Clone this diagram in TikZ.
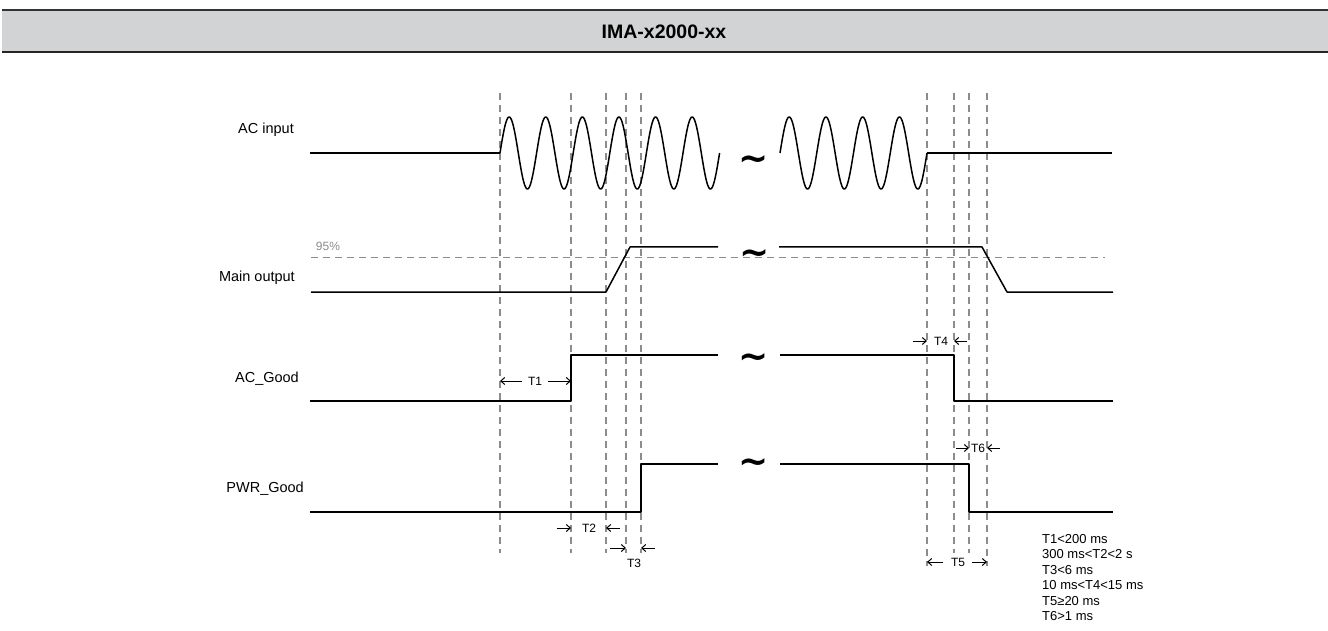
\documentclass[tikz,border=0pt]{standalone}
\usepackage{fontspec}
\setmainfont{Liberation Sans}
\newfontfamily\djv{DejaVu Sans}
\usetikzlibrary{arrows.meta}
\definecolor{hdrgray}{RGB}{210,211,213}
\definecolor{guidegray}{RGB}{140,140,140}
\begin{document}
\begin{tikzpicture}[x=1pt,y=-1pt,
  sig/.style={line width=1.5pt, black, line join=round},
  vguide/.style={guidegray, dash pattern=on 7pt off 5pt, line width=1.1pt},
  lbl/.style={anchor=east, inner sep=0pt, font=\fontsize{14.5}{16}\selectfont},
  tlbl/.style={inner sep=0pt, font=\fontsize{12}{14}\selectfont},
  tarr/.style={-{Straight Barb[length=4pt,width=7pt]}, line width=1pt},
  brk/.style={inner sep=0pt, font=\djv\bfseries\fontsize{36}{36}\selectfont}
]
\useasboundingbox (0,0) rectangle (1328,631);
% header
\fill[hdrgray] (2,10) rectangle (1328,52);
\draw[line width=1.2pt, black!80] (2,10) -- (1328,10);
\draw[line width=2pt, black!85] (2,52) -- (1328,52);
\node[inner sep=0pt, font=\fontsize{19.5}{21}\selectfont\bfseries] (title) at (664,32) {IMA-x2000-xx};

% vertical guides
\coordinate (va) at (500,93);  \coordinate (vaB) at (500,553);
\coordinate (vb) at (571,93);  \coordinate (vbB) at (571,553);
\coordinate (vc) at (606,93);  \coordinate (vcB) at (606,553);
\coordinate (vd) at (626,93);  \coordinate (vdB) at (626,553);
\coordinate (ve) at (641,93);  \coordinate (veB) at (641,553);
\coordinate (vf) at (927,93);  \coordinate (vfB) at (927,566);
\coordinate (vg) at (954,93);  \coordinate (vgB) at (954,553);
\coordinate (vh) at (969,93);  \coordinate (vhB) at (969,553);
\coordinate (vi) at (987,93);  \coordinate (viB) at (987,566);
\draw[vguide] (va) -- (vaB);
\draw[vguide] (vb) -- (vbB);
\draw[vguide] (vc) -- (vcB);
\draw[vguide] (vd) -- (vdB);
\draw[vguide] (ve) -- (veB);
\draw[vguide] (vf) -- (vfB);
\draw[vguide] (vg) -- (vgB);
\draw[vguide] (vh) -- (vhB);
\draw[vguide] (vi) -- (viB);
% 95% line
\coordinate (p95l) at (311,257);
\coordinate (p95r) at (1105,257);
\draw[vguide, line width=1pt] (p95l) -- (p95r);
\node[inner sep=0pt, text=guidegray, font=\fontsize{12}{14}\selectfont] (p95) at (328,246) {95\%};

% labels
\node[lbl] (lac) at (294,130) {AC input};
\node[lbl] (lmain) at (295,278) {Main output};
\node[lbl] (lacg) at (299,379) {AC\_Good};
\node[lbl] (lpwr) at (304,489) {PWR\_Good};

% AC input
\draw[sig] (310,153) -- (500,153);
\draw[sig, domain=0:219.6, samples=360] plot ({500+\x}, {153 - 36*sin(\x*9.8361)});
\draw[sig, domain=0:147, samples=260] plot ({780+\x}, {153 - 36*sin(\x*9.7959)});
\draw[sig] (927,153) -- (1112,153);

% Main output
\draw[sig] (311,292) -- (606,292) -- (630,247) -- (718,247);
\draw[sig] (779,247) -- (982,247) -- (1007,292) -- (1113,292);

% AC_Good
\draw[sig] (310,401) -- (571,401) -- (571,355) -- (718,355);
\draw[sig] (780,355) -- (954,355) -- (954,401) -- (1113,401);

% PWR_Good
\draw[sig] (310,512) -- (641,512) -- (641,464) -- (718,464);
\draw[sig] (780,464) -- (969,464) -- (969,512) -- (1113,512);

% break marks
\node[brk] (b1) at (754,163) {\textasciitilde};
\node[brk] (b2) at (755,257) {\textasciitilde};
\node[brk] (b3) at (754,361) {\textasciitilde};
\node[brk] (b4) at (754,466) {\textasciitilde};

% timing labels
\node[tlbl] (t1) at (535,381) {T1};
\draw[tarr] (522,381) -- (va |- t1);
\draw[tarr] (548,381) -- (vb |- t1);

\node[tlbl] (t2) at (589,528) {T2};
\draw[tarr] (557,528) -- (vb |- t2);
\draw[tarr] (620,528) -- (vc |- t2);

\coordinate (t3a) at (634,548);
\node[tlbl] (t3) at (634,563) {T3};
\draw[tarr] (610,548) -- (vd |- t3a);
\draw[tarr] (655,548) -- (ve |- t3a);

\node[tlbl] (t4) at (941,341) {T4};
\draw[tarr] (913,341) -- (vf |- t4);
\draw[tarr] (967,341) -- (vg |- t4);

\node[tlbl] (t5) at (958,562) {T5};
\draw[tarr] (943,562) -- (vf |- t5);
\draw[tarr] (972,562) -- (vi |- t5);

\node[tlbl] (t6) at (978,448) {T6};
\draw[tarr] (956,448) -- (vh |- t6);
\draw[tarr] (1000,448) -- (vi |- t6);

% legend
\node[anchor=north west, inner sep=0pt, align=left, font=\fontsize{13}{15.5}\selectfont] (legend) at (1042,534)
 {T1<200 ms\\300 ms<T2<2 s\\T3<6 ms\\10 ms<T4<15 ms\\T5≥20 ms\\T6>1 ms};
\end{tikzpicture}
\end{document}
